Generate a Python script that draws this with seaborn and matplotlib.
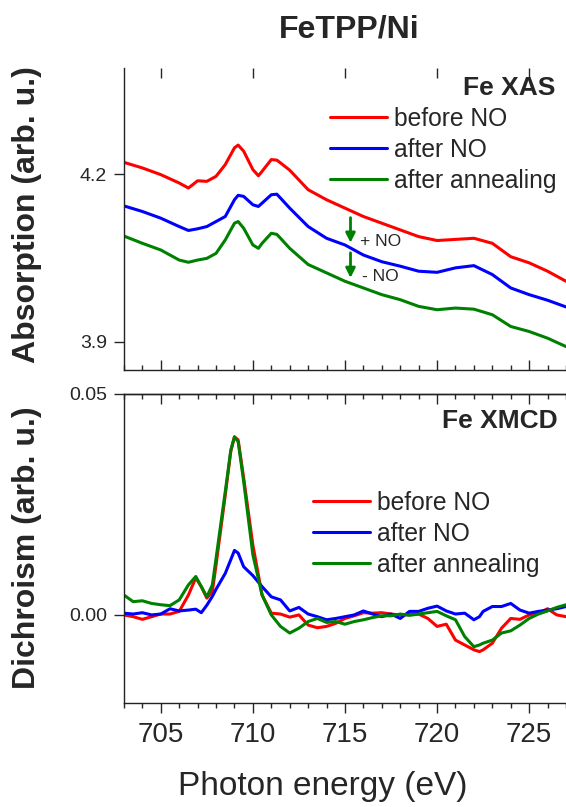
import matplotlib
matplotlib.use("Agg")
import matplotlib.pyplot as plt
from matplotlib.ticker import MultipleLocator
import numpy as np
import pandas as pd
import seaborn as sns

# ---- data ----
samples = ["before NO", "after NO", "after annealing"]
colors = ["#ff0000", "#0000ff", "#008000"]

e_xas = [703, 704, 705, 706, 706.5, 707, 707.5, 708, 708.5, 709, 709.2, 709.5,
         710, 710.3, 710.5, 711, 711.3, 711.5, 712, 713, 714, 715, 716, 717,
         718, 719, 720, 721, 722, 723, 724, 725, 726, 727]
xas_before = [4.221, 4.211, 4.199, 4.184, 4.175, 4.188, 4.187, 4.196, 4.217, 4.247, 4.252, 4.241,
              4.208, 4.197, 4.205, 4.226, 4.225, 4.220, 4.207, 4.172, 4.154, 4.139, 4.124, 4.112,
              4.100, 4.088, 4.081, 4.083, 4.085, 4.076, 4.052, 4.041, 4.026, 4.008]
xas_after = [4.143, 4.133, 4.121, 4.106, 4.099, 4.102, 4.106, 4.115, 4.124, 4.154, 4.162, 4.160,
             4.145, 4.142, 4.148, 4.163, 4.164, 4.157, 4.139, 4.106, 4.085, 4.073, 4.055, 4.043,
             4.035, 4.026, 4.024, 4.032, 4.036, 4.020, 3.996, 3.984, 3.974, 3.962]
xas_anneal = [4.089, 4.076, 4.064, 4.046, 4.042, 4.046, 4.049, 4.058, 4.082, 4.112, 4.115, 4.103,
              4.073, 4.067, 4.076, 4.094, 4.092, 4.085, 4.067, 4.038, 4.023, 4.008, 3.996, 3.984,
              3.975, 3.963, 3.957, 3.960, 3.958, 3.948, 3.927, 3.918, 3.906, 3.891]

e_xmcd = [703, 703.5, 704, 704.5, 705, 705.5, 706, 706.5, 706.9, 707.2, 707.5, 707.8,
          708, 708.5, 708.8, 709, 709.2, 709.5, 710, 710.5, 711, 711.5, 712, 712.5,
          713, 713.5, 714, 714.5, 715, 715.5, 716, 716.5, 717, 717.5, 718, 718.5,
          719, 719.5, 720, 720.5, 721, 721.5, 722, 722.3, 722.5, 723, 723.5, 724,
          724.5, 725, 725.5, 726, 726.5, 727]
xmcd_before = [0.0, -0.0004, -0.0010, -0.0004, 0.0002, 0.0002, 0.0008, 0.0045, 0.0084, 0.0064, 0.0038, 0.0053,
               0.0113, 0.0271, 0.0370, 0.0403, 0.0396, 0.0310, 0.0158, 0.0045, 0.0004, 0.0002, -0.0005, 0.0,
               -0.0023, -0.0029, -0.0026, -0.0019, -0.0008, -0.0002, 0.0005, 0.0004, 0.0005, 0.0002, 0.0, 0.0001,
               0.0002, -0.0008, -0.0026, -0.0021, -0.0057, -0.0068, -0.0079, -0.0083, -0.0079, -0.0064, -0.0030, -0.0008,
               -0.0010, 0.0, 0.0004, 0.0014, 0.0, -0.0004]
xmcd_after = [0.0004, 0.0002, 0.0005, 0.0, 0.0002, 0.0014, 0.0009, 0.0011, 0.0013, 0.0005, 0.0022, 0.0042,
              0.0058, 0.0094, 0.0125, 0.0146, 0.0140, 0.0109, 0.0089, 0.0064, 0.0041, 0.0034, 0.0009, 0.0017,
              0.0002, -0.0004, -0.0011, -0.0008, -0.0004, 0.0, 0.0009, 0.0002, -0.0004, 0.0002, -0.0008, 0.0008,
              0.0008, 0.0015, 0.0020, 0.0009, 0.0002, 0.0004, -0.0011, -0.0004, 0.0008, 0.0019, 0.0019, 0.0026,
              0.0011, 0.0004, 0.0008, 0.0011, 0.0014, 0.0019]
xmcd_anneal = [0.0045, 0.0030, 0.0032, 0.0026, 0.0023, 0.0021, 0.0034, 0.0068, 0.0087, 0.0064, 0.0041, 0.0068,
               0.0128, 0.0279, 0.0373, 0.0403, 0.0392, 0.0302, 0.0136, 0.0045, 0.0, -0.0026, -0.0041, -0.0030,
               -0.0015, -0.0008, -0.0017, -0.0015, -0.0021, -0.0015, -0.0011, -0.0006, -0.0002, -0.0002, 0.0002, -0.0001,
               0.0002, 0.0005, 0.0008, -0.0002, -0.0011, -0.0049, -0.0072, -0.0068, -0.0064, -0.0057, -0.0041, -0.0036,
               -0.0023, -0.0008, 0.0002, 0.0009, 0.0017, 0.0023]

#%% long-form tables
def long_df(e, series):
    frames = [pd.DataFrame({"energy": e, "value": v, "sample": s}) for s, v in zip(samples, series)]
    return pd.concat(frames, ignore_index=True)

df_xas = long_df(e_xas, [xas_before, xas_after, xas_anneal])
df_xmcd = long_df(e_xmcd, [xmcd_before, xmcd_after, xmcd_anneal])

#%% figure
sns.set_style("ticks")
plt.rcParams["font.family"] = ["Liberation Sans", "DejaVu Sans"]
plt.rcParams["axes.linewidth"] = 1.0
plt.rcParams["xtick.direction"] = "in"

fig = plt.figure(figsize=(5.66, 8.07), dpi=100)
ax1 = fig.add_axes([0.219, 0.5415, 0.781, 0.3742])
ax2 = fig.add_axes([0.219, 0.1285, 0.781, 0.3833])
pal = dict(zip(samples, colors))

sns.lineplot(data=df_xas, x="energy", y="value", hue="sample", palette=pal,
             linewidth=2.2, errorbar=None, ax=ax1)
sns.lineplot(data=df_xmcd, x="energy", y="value", hue="sample", palette=pal,
             linewidth=2.2, errorbar=None, ax=ax2)

for ax in (ax1, ax2):
    ax.set_xlim(703, 727)
    ax.xaxis.set_major_locator(MultipleLocator(5))
    ax.xaxis.set_minor_locator(MultipleLocator(1))
    ax.spines["right"].set_visible(False)
    ax.set_xlabel("")
    ax.set_ylabel("")
    for sp in ax.spines.values():
        sp.set_color("#222222")
    ax.tick_params(axis="y", direction="out", length=7.2, width=1, labelsize=14, pad=5)

# top panel
ax1.set_ylim(3.849, 4.390)
ax1.set_yticks([3.9, 4.2])
ax1.set_yticklabels(["3.9", "4.2"])
ax1.spines["top"].set_visible(False)
ax1.tick_params(axis="x", which="major", direction="in", length=7.2, width=1,
                top=True, bottom=True, labelbottom=False)
ax1.tick_params(axis="x", which="minor", direction="in", length=3.6, width=1,
                top=False, bottom=True)

# bottom panel
ax2.set_ylim(-0.02, 0.05)
ax2.set_yticks([0.0, 0.05])
ax2.set_yticklabels(["0.00", "0.05"])
ax2.tick_params(axis="x", which="major", direction="out", length=7.2, width=1, labelsize=20, pad=6)
ax2.tick_params(axis="x", which="minor", direction="out", length=3.6, width=1)
sec = ax2.secondary_xaxis("top")
sec.xaxis.set_major_locator(MultipleLocator(5))
sec.xaxis.set_minor_locator(MultipleLocator(1))
sec.tick_params(which="major", direction="in", length=7.2, width=1, labeltop=False)
sec.tick_params(which="minor", direction="in", length=3.6, width=1)
sec.spines["top"].set_color("#222222")

# legends
leg_kw = dict(frameon=False, fontsize=17.7, handlelength=2.3, handletextpad=0.3,
              labelspacing=0.28, borderpad=0, borderaxespad=0, loc="upper left",
              bbox_transform=fig.transFigure)
h, l = ax1.get_legend_handles_labels()
ax1.legend(h, l, bbox_to_anchor=(330 / 566, 1 - 107 / 807), **leg_kw)
h, l = ax2.get_legend_handles_labels()
ax2.legend(h, l, bbox_to_anchor=(313 / 566, 1 - 491 / 807), **leg_kw)
for lg in (ax1.get_legend(), ax2.get_legend()):
    for ln in lg.get_lines():
        ln.set_linewidth(2.2)

# panel tags
ax1.text(0.975, 0.934, "Fe XAS", transform=ax1.transAxes, ha="right", va="center",
         fontsize=19, fontweight="bold")
ax2.text(0.982, 0.913, "Fe XMCD", transform=ax2.transAxes, ha="right", va="center",
         fontsize=19, fontweight="bold")

# NO arrows
arr = dict(arrowstyle="-|>", color="#008000", lw=2, mutation_scale=14, shrinkA=0, shrinkB=0)
ax1.annotate("", xy=(715.3, 4.077), xytext=(715.3, 4.122), arrowprops=arr)
ax1.annotate("", xy=(715.3, 4.014), xytext=(715.3, 4.059), arrowprops=arr)
ax1.text(715.8, 4.080, "+ NO", fontsize=12.5, va="center", ha="left")
ax1.text(715.95, 4.016, "- NO", fontsize=12.5, va="center", ha="left")

# labels
fig.text(349 / 566, 1 - 30 / 807, "FeTPP/Ni", ha="center", va="center", fontsize=23, fontweight="bold")
fig.text(27 / 566, 1 - 215 / 807, "Absorption (arb. u.)", rotation=90, ha="center", va="center",
         fontsize=23, fontweight="bold")
fig.text(27 / 566, 1 - 548 / 807, "Dichroism (arb. u.)", rotation=90, ha="center", va="center",
         fontsize=23, fontweight="bold")
fig.text(323 / 566, 1 - 786 / 807, "Photon energy (eV)", ha="center", va="center", fontsize=24)

fig.savefig("out.png", dpi=100)
